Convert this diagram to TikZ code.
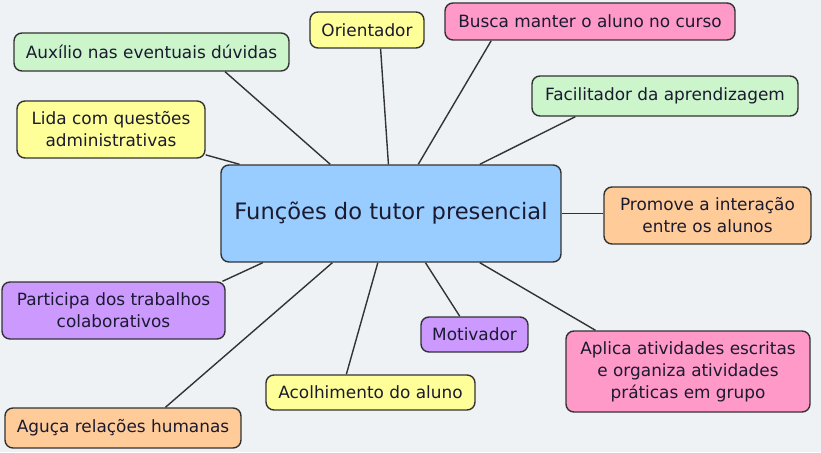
\documentclass[tikz,border=0pt]{standalone}
\usepackage{fontspec}
\setmainfont{DejaVu Sans}
\definecolor{bgc}{HTML}{EEF2F5}
\definecolor{bordc}{HTML}{333333}
\definecolor{txtc}{HTML}{1A1A30}
\definecolor{cgreen}{HTML}{CCF5CC}
\definecolor{cyellow}{HTML}{FFFF99}
\definecolor{cpink}{HTML}{FF99C8}
\definecolor{cblue}{HTML}{99CCFF}
\definecolor{corange}{HTML}{FFCC99}
\definecolor{cpurple}{HTML}{CC99FF}
\begin{document}
\begin{tikzpicture}[x=1pt,y=-1pt,
  box/.style={draw=bordc, line width=1.4pt, rounded corners=8pt, inner sep=0pt,
    align=center, text=txtc, font=\fontsize{16.9}{22}\selectfont},
  link/.style={draw=bordc, line width=1.4pt}]
\useasboundingbox (0,0) rectangle (821,452);
\fill[bgc] (0,0) rectangle (821,452);
% center
\node[box, fill=cblue, minimum width=340pt, minimum height=97pt,
  font=\fontsize{22.6}{27}\selectfont] (c) at (391,213.5) {Funções do tutor presencial};
% leaves
\node[box, fill=cgreen, minimum width=275pt, minimum height=38pt] (aux) at (151.5,52) {Auxílio nas eventuais dúvidas};
\node[box, fill=cyellow, minimum width=114pt, minimum height=36pt] (ori) at (367,30) {Orientador};
\node[box, fill=cyellow, minimum width=188pt, minimum height=57pt] (lida) at (111,129.5) {Lida com questões\\administrativas};
\node[box, fill=cpink, minimum width=290pt, minimum height=37pt] (busca) at (590,21.5) {Busca manter o aluno no curso};
\node[box, fill=cgreen, minimum width=266pt, minimum height=40pt] (facil) at (665,96) {Facilitador da aprendizagem};
\node[box, fill=corange, minimum width=207pt, minimum height=57pt] (pro) at (707.5,215.5) {Promove a interação\\entre os alunos};
\node[box, fill=cpurple, minimum width=223pt, minimum height=57pt] (part) at (113.5,310.5) {Participa dos trabalhos\\colaborativos};
\node[box, fill=corange, minimum width=236pt, minimum height=40pt] (agu) at (123,428) {Aguça relações humanas};
\node[box, fill=cyellow, minimum width=209pt, minimum height=35pt] (acol) at (370.5,392.5) {Acolhimento do aluno};
\node[box, fill=cpurple, minimum width=107pt, minimum height=35pt] (mot) at (474.5,334.5) {Motivador};
\node[box, fill=cpink, minimum width=244pt, minimum height=81pt] (apl) at (688,371.5) {Aplica atividades escritas\\e organiza atividades\\práticas em grupo};
% connectors
\draw[link] (c.141.5) -- (aux.-15.1);
\draw[link] (c.93.5) -- (ori.-54.2);
\draw[link] (c.162.7) -- (lida.-15.2);
\draw[link] (c.61.8) -- (busca.-169.6);
\draw[link] (c.29.7) -- (facil.-167.9);
\draw[link] (c.east) -- (c.east -| pro.west);
\draw[link] (c.-159) -- (part.15.7);
\draw[link] (c.-140.1) -- (agu.26.6);
\draw[link] (c.-105) -- (acol.143.3);
\draw[link] (c.-55) -- (mot.129.6);
\draw[link] (c.-29.1) -- (apl.156.5);
\end{tikzpicture}
\end{document}
